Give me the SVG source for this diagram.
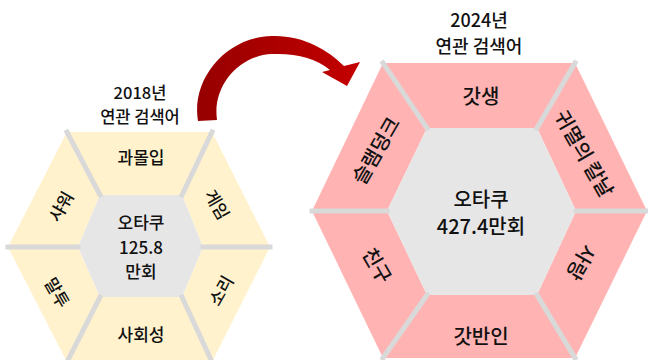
<svg xmlns="http://www.w3.org/2000/svg" width="648" height="360" viewBox="0 0 648 360">
<defs>
<style>
.t{font-family:"Noto Sans CJK KR","Noto Sans",sans-serif;fill:#111111;text-anchor:middle;font-weight:500}
.s16{font-size:17px}
.s16b{font-size:16.5px}
.s18{font-size:18px}
.s20{font-size:20px}
.c{dominant-baseline:central}
.y{fill:#fff2cc}
.p{fill:#ffb3b3}
.g{fill:#e7e6e6}
.sep{stroke:#d9d9d9;stroke-width:5;stroke-linecap:square;fill:none}
</style>
<linearGradient id="arrowGrad" x1="0" y1="0" x2="1" y2="0">
<stop offset="0" stop-color="#960000"/>
<stop offset="1" stop-color="#c40000"/>
</linearGradient>
</defs>
<rect width="648" height="360" fill="#ffffff"/>

<g id="title-2018">
<text class="t s16b" x="140" y="99">2018년</text>
<text class="t s16b" x="140" y="123">연관 검색어</text>
</g>

<g id="title-2024">
<text class="t s18" x="479" y="27">2024년</text>
<text class="t s18" x="479" y="53">연관 검색어</text>
</g>

<g id="hex-2018">
<g id="seg-2018-top"><polygon class="y" points="67,132 212,132 182,195 100,195"/><text class="t s16" x="141" y="164">과몰입</text></g>
<g id="seg-2018-topright"><polygon class="y" points="212,132 270,247 203,247 182,195"/><text class="t s16 c" transform="translate(218,204) rotate(60)">게임</text></g>
<g id="seg-2018-bottomright"><polygon class="y" points="270,247 212,362 182,297 203,247"/><text class="t s16 c" transform="translate(220,290) rotate(-60)">소리</text></g>
<g id="seg-2018-bottom"><polygon class="y" points="212,362 67,362 100,297 182,297"/><text class="t s16" x="141" y="341">사회성</text></g>
<g id="seg-2018-bottomleft"><polygon class="y" points="67,362 8,247 78,247 100,297"/><text class="t s16 c" transform="translate(58,292) rotate(60)">말투</text></g>
<g id="seg-2018-topleft"><polygon class="y" points="8,247 67,132 100,195 78,247"/><text class="t s16 c" transform="translate(60,206) rotate(-60)">샤워</text></g>
<g id="center-2018">
<polygon class="g" points="100,195 182,195 203,247 182,297 100,297 78,247"/>
<text class="t s16" x="141" y="229">오타쿠</text>
<text class="t s16" x="141" y="254">125.8</text>
<text class="t s16" x="141" y="278">만회</text>
</g>
<g id="sep-2018">
<line class="sep" x1="100" y1="195" x2="67" y2="132"/>
<line class="sep" x1="182" y1="195" x2="212" y2="132"/>
<line class="sep" x1="203" y1="247" x2="270" y2="247"/>
<line class="sep" x1="182" y1="297" x2="212" y2="362"/>
<line class="sep" x1="100" y1="297" x2="67" y2="362"/>
<line class="sep" x1="78" y1="247" x2="8" y2="247"/>
</g>
</g>

<g id="hex-2024">
<g id="seg-2024-top"><polygon class="p" points="383,63 575,63 537,128 427,128"/><text class="t s20" x="481" y="104">갓생</text></g>
<g id="seg-2024-topright"><polygon class="p" points="575,63 647,211 576,211 537,128"/><text class="t s20 c" transform="translate(585,153) rotate(60)">귀멸의 칼날</text></g>
<g id="seg-2024-bottomright"><polygon class="p" points="647,211 575,358 537,295 576,211"/><text class="t s20 c" transform="translate(582,263) rotate(120)">사랑</text></g>
<g id="seg-2024-bottom"><polygon class="p" points="575,358 383,358 427,295 537,295"/><text class="t s20" x="481" y="344">갓반인</text></g>
<g id="seg-2024-bottomleft"><polygon class="p" points="383,358 312,211 387,211 427,295"/><text class="t s20 c" transform="translate(378,265) rotate(60)">친구</text></g>
<g id="seg-2024-topleft"><polygon class="p" points="312,211 383,63 427,128 387,211"/><text class="t s20 c" transform="translate(375,150) rotate(-60)">슬램덩크</text></g>
<g id="center-2024">
<polygon class="g" points="427,128 537,128 576,211 537,295 427,295 387,211"/>
<text class="t s20" x="481" y="207">오타쿠</text>
<text class="t s20" x="481" y="234">427.4만회</text>
</g>
<g id="sep-2024">
<line class="sep" x1="427" y1="128" x2="383" y2="63"/>
<line class="sep" x1="537" y1="128" x2="575" y2="63"/>
<line class="sep" x1="576" y1="211" x2="647" y2="211"/>
<line class="sep" x1="537" y1="295" x2="575" y2="358"/>
<line class="sep" x1="427" y1="295" x2="383" y2="358"/>
<line class="sep" x1="387" y1="211" x2="312" y2="211"/>
</g>
</g>

<g id="connectors">
<path id="arrow-2018-2024" fill="url(#arrowGrad)" d="M198,121 C191,80 225,37 272,36 C303,35 328,50 344,66 L360,62 L347,86 L322,72 L330,70 C316,58 296,53 272,54 C240,55 212,85 217,120 Z"/>
</g>
</svg>
